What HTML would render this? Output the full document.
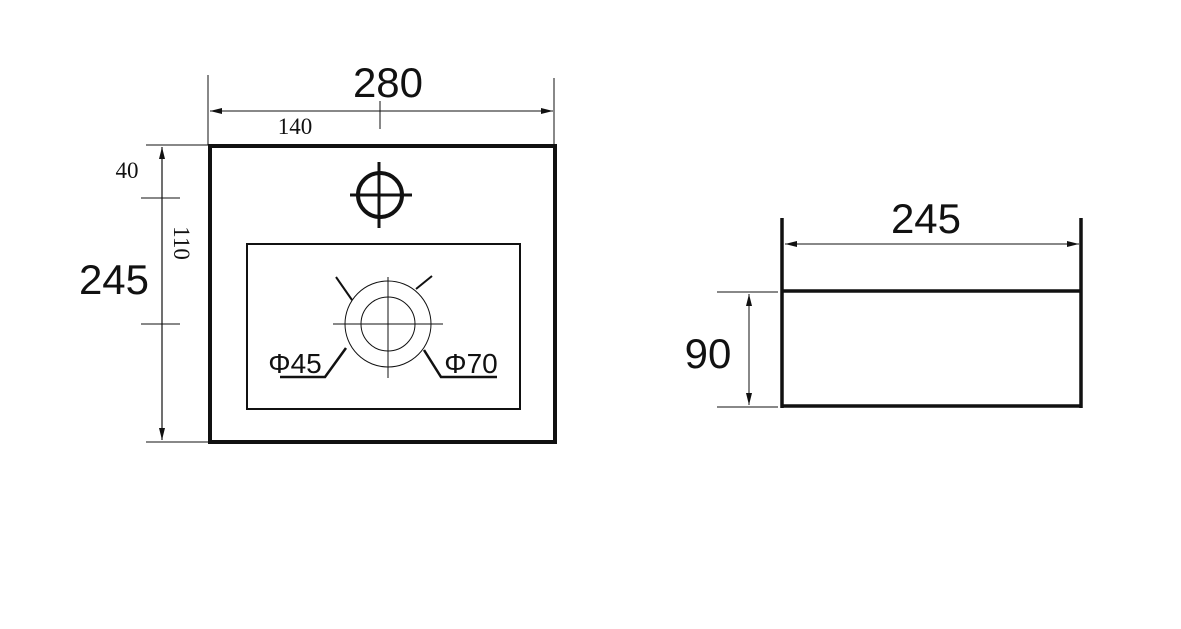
<!DOCTYPE html>
<html><head><meta charset="utf-8"><style>body{margin:0;background:#fff}svg{display:block}</style></head>
<body>
<svg width="1181" height="629" viewBox="0 0 1181 629" xmlns="http://www.w3.org/2000/svg">
<defs>
<marker id="a" viewBox="0 0 12 6" refX="12" refY="3" markerWidth="12" markerHeight="6" markerUnits="userSpaceOnUse" orient="auto-start-reverse"><path d="M0,0 L12,3 L0,6 Z" fill="#111"/></marker>
</defs>
<g stroke="#111" fill="none">
<rect x="210" y="146" width="345" height="296" stroke-width="4"/>
<line x1="208" y1="75" x2="208" y2="145" stroke-width="1"/>
<line x1="554" y1="78" x2="554" y2="145" stroke-width="1"/>
<line x1="210" y1="111" x2="553" y2="111" stroke-width="1" marker-start="url(#a)" marker-end="url(#a)"/>
<line x1="380" y1="101" x2="380" y2="129" stroke-width="1"/>
<line x1="146" y1="145" x2="208" y2="145" stroke-width="1"/>
<line x1="146" y1="442" x2="208" y2="442" stroke-width="1"/>
<line x1="162" y1="147" x2="162" y2="440" stroke-width="1.2" marker-start="url(#a)" marker-end="url(#a)"/>
<line x1="141" y1="198" x2="180" y2="198" stroke-width="1"/>
<line x1="141" y1="324" x2="180" y2="324" stroke-width="1"/>
<circle cx="380" cy="195" r="22" stroke-width="4"/>
<line x1="350" y1="195" x2="412" y2="195" stroke-width="3"/>
<line x1="379" y1="162" x2="379" y2="228" stroke-width="3"/>
<rect x="247" y="244" width="273" height="165" stroke-width="2"/>
<circle cx="388" cy="324" r="43" stroke-width="1"/>
<circle cx="388" cy="324" r="27" stroke-width="1"/>
<line x1="333" y1="324" x2="443" y2="324" stroke-width="1"/>
<line x1="388" y1="277" x2="388" y2="378" stroke-width="1"/>
<line x1="336" y1="277" x2="352" y2="300" stroke-width="2"/>
<line x1="432" y1="276" x2="416" y2="289" stroke-width="2"/>
<polyline points="346,348 325,377 280,377" stroke-width="2.5"/>
<polyline points="424,350 441,377 497,377" stroke-width="2.5"/>
<line x1="782" y1="218" x2="782" y2="408" stroke-width="3.5"/>
<line x1="1081" y1="218" x2="1081" y2="408" stroke-width="3.5"/>
<line x1="782" y1="291" x2="1081" y2="291" stroke-width="3.5"/>
<line x1="782" y1="406" x2="1081" y2="406" stroke-width="3.5"/>
<line x1="785" y1="244" x2="1079" y2="244" stroke-width="1" marker-start="url(#a)" marker-end="url(#a)"/>
<line x1="717" y1="292" x2="778" y2="292" stroke-width="1"/>
<line x1="717" y1="407" x2="778" y2="407" stroke-width="1"/>
<line x1="749" y1="294" x2="749" y2="405" stroke-width="1" marker-start="url(#a)" marker-end="url(#a)"/>
</g>
<g fill="#111" font-family="Liberation Sans, sans-serif">
<text x="388" y="97" font-size="42" text-anchor="middle">280</text>
<text x="114" y="294" font-size="42" text-anchor="middle">245</text>
<text x="295" y="373" font-size="28" text-anchor="middle">Φ45</text>
<text x="471" y="373" font-size="28" text-anchor="middle">Φ70</text>
<text x="926" y="233" font-size="42" text-anchor="middle">245</text>
<text x="708" y="368" font-size="42" text-anchor="middle">90</text>
</g>
<g fill="#111" font-family="Liberation Serif, serif" font-size="23">
<text x="295" y="134" text-anchor="middle">140</text>
<text x="127" y="178" text-anchor="middle">40</text>
<text transform="translate(174,243) rotate(90)" text-anchor="middle">110</text>
</g>
</svg>
</body></html>
